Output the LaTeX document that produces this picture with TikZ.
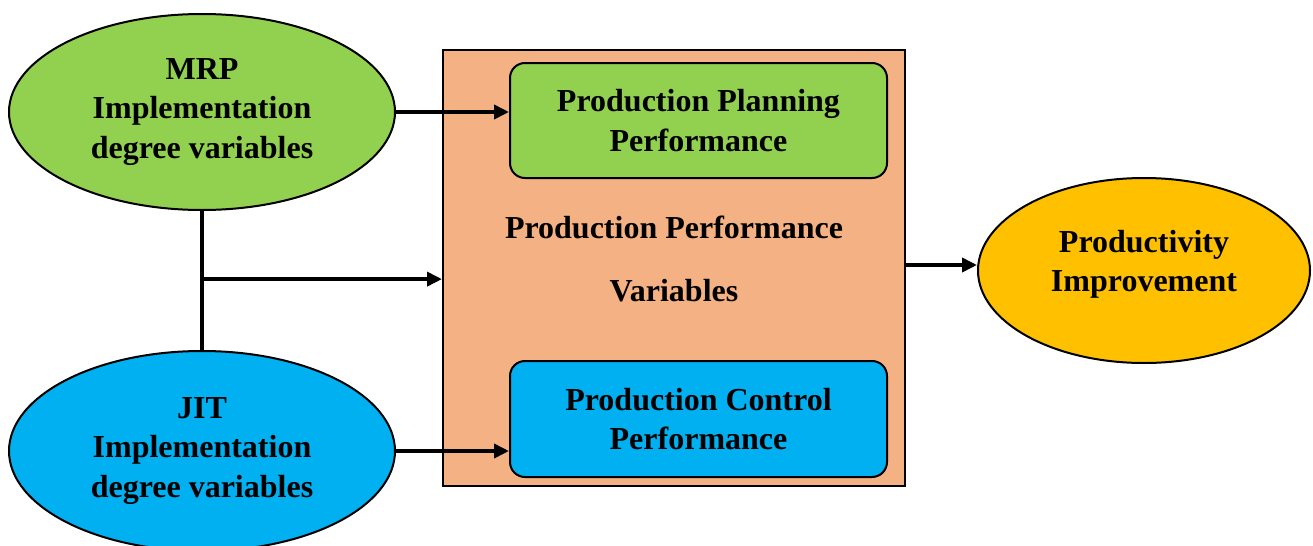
\documentclass[tikz,border=0pt]{standalone}
\usepackage{fontspec}
\setmainfont{Liberation Serif}
\usetikzlibrary{shapes.geometric,arrows.meta,calc}
\definecolor{leafgreen}{HTML}{92D050}
\definecolor{skyblue}{HTML}{00B0F0}
\definecolor{peach}{HTML}{F4B183}
\definecolor{amber}{HTML}{FFC000}
\begin{document}
\begin{tikzpicture}[x=0.5pt,y=-0.5pt,
  every node/.style={font=\fontsize{16}{19.6}\selectfont\bfseries, align=center},
  oval/.style={ellipse, draw, line width=1pt, inner sep=0pt},
  card/.style={draw, rounded corners=7.5pt, line width=1pt, inner sep=0pt,
               minimum width=188.5pt, minimum height=57.5pt},
  frame/.style={draw, line width=1pt, inner sep=0pt, fill=peach},
  link/.style={line width=1.8pt, -{Triangle[length=7.5pt,width=7pt]}},
  wire/.style={line width=1.8pt}]
\useasboundingbox (0,0) rectangle (1313,546);

% outer block of production performance variables
\node[frame, minimum width=231pt, minimum height=218pt] (box) at (674,268) {};
\node (ppv) at (674,259) {Production Performance\\[11.5pt]Variables};

% inner performance cards
\node[card, fill=leafgreen] (plan) at (698.5,120.5) {Production Planning\\Performance};
\node[card, fill=skyblue, minimum height=58pt] (ctrl) at (698.5,419) {Production Control\\Performance};

% implementation ovals
\node[oval, fill=leafgreen, minimum width=193pt, minimum height=98pt] (mrp) at (202,112)
  {MRP\\Implementation\\degree variables};
\node[oval, fill=skyblue, minimum width=193pt, minimum height=100pt] (jit) at (202,451)
  {JIT\\Implementation\\degree variables};

% outcome oval, its caption sits a little above centre
\node[oval, fill=amber, minimum width=166pt, minimum height=92.5pt] (prod) at (1144,270.5) {};
\node (prodtext) at (1144,264) {Productivity\\Improvement};

% connectors
\draw[link] (mrp.east) -- (mrp.east -| plan.west);
\draw[link] (jit.east) -- (jit.east -| ctrl.west);
\draw[wire] (mrp.south) -- (jit.north);
\coordinate (join) at ($(mrp.south)!0.49!(jit.north)$);
\draw[link] (join) -- (join -| box.west);
\draw[link] (box.east |- 0,265) -- (prod.west |- 0,265);
\end{tikzpicture}
\end{document}
